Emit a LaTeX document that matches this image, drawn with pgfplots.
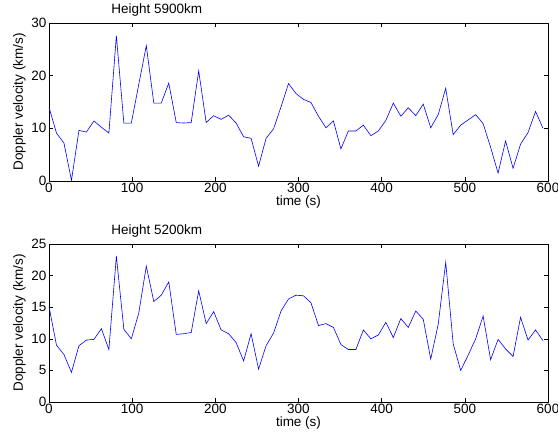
\documentclass[border=0pt]{standalone}
\usepackage{fontspec}
\setmainfont{Liberation Sans}
\usepackage{pgfplots}
\pgfplotsset{compat=1.18}
\pgfplotsset{
  panel/.style={
    scale only axis, width=499pt, height=158pt,
    xmin=0, xmax=600,
    xtick={0,100,...,600},
    tick align=inside,
    major tick length=4pt,
    tick style={black, line width=0.5pt},
    axis line style={black, line width=0.6pt},
    /pgf/number format/assume math mode=true,
    tick label style={font=\fontsize{13.5}{15}\selectfont},
    label style={font=\fontsize{13.5}{15}\selectfont},
    title style={font=\fontsize{13.5}{15}\selectfont, at={(0.216,1)}, anchor=south, yshift=-3pt},
    xlabel={time (s)},
    ylabel={Doppler velocity (km/s)},
    xlabel style={yshift=4pt},
    ylabel style={yshift=-1pt},
    xticklabel style={yshift=1pt},
    yticklabel style={xshift=1pt},
  },
  vline/.style={blue, line width=0.6pt, no marks},
}
\begin{document}
\begin{tikzpicture}
\useasboundingbox (-49pt,-260pt) rectangle (509pt,181pt);
\begin{axis}[panel, ymin=0, ymax=30, ytick={0,10,20,30}, title={Height 5900km}]
\addplot[vline] coordinates {
(0,14.0)(9,9.1)(18,7.2)(27,0.1)(36,9.6)(45,9.3)(54,11.4)(63,10.2)(72,9.1)(81,27.6)
(90,11.0)(99,11.0)(108,18.4)(117,25.7)(126,14.8)(135,14.8)(144,18.6)(153,11.1)(162,11.0)(171,11.1)
(180,20.9)(189,11.1)(198,12.4)(207,11.7)(216,12.5)(225,11.0)(234,8.4)(243,8.1)(252,2.8)(261,8.1)
(270,9.9)(279,14.1)(288,18.5)(297,16.6)(306,15.5)(315,14.9)(324,12.3)(333,10.1)(342,11.4)(351,6.1)
(360,9.5)(369,9.5)(378,10.6)(387,8.6)(396,9.5)(405,11.5)(414,14.8)(423,12.3)(432,13.9)(441,12.4)
(450,14.6)(459,10.1)(468,12.6)(477,17.6)(486,8.8)(495,10.6)(504,11.6)(513,12.6)(522,10.9)(531,6.4)
(540,1.5)(549,7.6)(558,2.4)(567,7.0)(576,9.2)(585,13.2)(594,10.0)
};
\end{axis}
\begin{axis}[panel, at={(0pt,-221pt)}, ymin=0, ymax=25, ytick={0,5,...,25}, title={Height 5200km}]
\addplot[vline] coordinates {
(0,15.1)(9,9.0)(18,7.5)(27,4.7)(36,8.9)(45,9.8)(54,9.9)(63,11.6)(72,8.3)(81,23.1)
(90,11.5)(99,10.0)(108,14.1)(117,21.5)(126,15.9)(135,16.9)(144,19.0)(153,10.7)(162,10.8)(171,11.0)
(180,17.6)(189,12.4)(198,14.3)(207,11.4)(216,10.8)(225,9.4)(234,6.5)(243,10.8)(252,5.2)(261,8.9)
(270,10.9)(279,14.4)(288,16.3)(297,16.9)(306,16.8)(315,15.7)(324,12.1)(333,12.4)(342,11.8)(351,9.1)
(360,8.3)(369,8.3)(378,11.4)(387,10.0)(396,10.6)(405,12.6)(414,10.2)(423,13.2)(432,11.8)(441,14.4)
(450,13.1)(459,6.8)(468,12.3)(477,22.1)(486,9.2)(495,5.0)(504,7.4)(513,10.0)(522,13.6)(531,6.7)
(540,9.9)(549,8.4)(558,7.2)(567,13.4)(576,9.8)(585,11.4)(594,9.7)
};
\end{axis}
\end{tikzpicture}
\end{document}
